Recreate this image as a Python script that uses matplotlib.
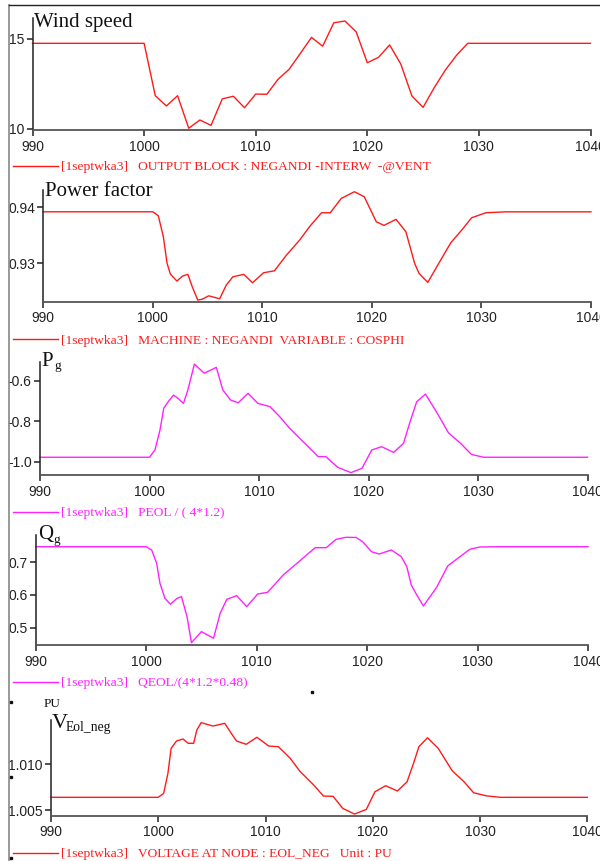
import matplotlib
matplotlib.use("Agg")
import matplotlib.pyplot as plt
from matplotlib.lines import Line2D

SERIF = "Liberation Serif"
SANS = "Liberation Sans"
RED = "#ff1a1a"
MAG = "#ff22ff"

# ---------------- data ----------------
wind_t = [990, 1000, 1001, 1002, 1003, 1004, 1005, 1006, 1007, 1008, 1009, 1010,
          1011, 1012, 1013, 1014, 1015, 1016, 1017, 1018, 1019, 1020, 1021, 1022,
          1023, 1024, 1025, 1026, 1027, 1028, 1029, 1040]
wind_v = [14.76, 14.76, 11.85, 11.28, 11.85, 10.04, 10.5, 10.2, 11.67, 11.82, 11.18, 11.94,
          11.93, 12.76, 13.32, 14.2, 15.09, 14.6, 15.9, 16.0, 15.4, 13.68, 13.98, 14.67,
          13.61, 11.83, 11.2, 12.3, 13.28, 14.1, 14.76, 14.76]

pf_t = [990, 1000.0, 1000.5, 1000.96, 1001.3, 1001.6, 1002.2, 1002.7, 1003.2, 1003.6,
        1004.1, 1004.5, 1005.1, 1006.1, 1006.7, 1007.3, 1008.3, 1009.1, 1010.1, 1011.1,
        1012.2, 1013.4, 1014.3, 1015.4, 1016.2, 1017.2, 1018.4, 1019.3, 1020.4, 1021.1,
        1022.2, 1023.1, 1023.9, 1024.3, 1025.1, 1026.1, 1027.2, 1028.2, 1029.1, 1030.4,
        1032.2, 1040]
pf_v = [0.93921, 0.93921, 0.9385, 0.93475, 0.930, 0.92809, 0.92684, 0.92773, 0.92804, 0.92582,
        0.92345, 0.9236, 0.92421, 0.92368, 0.92612, 0.9276, 0.92804, 0.92654, 0.92832, 0.92868,
        0.93148, 0.93416, 0.93654, 0.93904, 0.93904, 0.9416, 0.94279, 0.9419, 0.93743, 0.93678,
        0.93786, 0.93565, 0.930, 0.92821, 0.9266, 0.930, 0.93368, 0.93595, 0.93814, 0.93904,
        0.9392, 0.9392]

pg_t = [990, 1000, 1000.5, 1000.96, 1001.3, 1001.7, 1002.2, 1002.6, 1003.1, 1003.5,
        1004.1, 1005.0, 1006.1, 1006.7, 1007.4, 1008.1, 1009.0, 1009.9, 1011.0, 1011.9,
        1012.8, 1013.7, 1014.5, 1015.4, 1016.1, 1017.2, 1018.4, 1019.4, 1020.3, 1021.2,
        1022.3, 1023.2, 1023.8, 1024.4, 1025.2, 1026.2, 1027.3, 1028.4, 1029.4, 1030.5, 1040]
pg_v = [-0.978, -0.978, -0.942, -0.843, -0.736, -0.704, -0.671, -0.687, -0.712, -0.646,
        -0.518, -0.563, -0.534, -0.646, -0.695, -0.709, -0.662, -0.712, -0.728, -0.778,
        -0.835, -0.884, -0.926, -0.975, -0.975, -1.028, -1.054, -1.033, -0.942, -0.926,
        -0.954, -0.909, -0.802, -0.704, -0.666, -0.753, -0.857, -0.909, -0.964, -0.978, -0.978]

qg_t = [990, 1000, 1000.5, 1000.95, 1001.25, 1001.7, 1002.2, 1002.8, 1003.2, 1003.7,
        1004.1, 1005.0, 1006.1, 1006.7, 1007.3, 1008.2, 1009.1, 1010.1, 1011.0, 1012.4,
        1013.9, 1015.3, 1016.3, 1017.2, 1018.1, 1019.0, 1019.6, 1020.4, 1021.1, 1022.2,
        1023.1, 1023.6, 1024.0, 1024.5, 1025.1, 1026.3, 1027.3, 1028.4, 1029.3, 1030.2,
        1032.0, 1040]
qg_v = [0.7477, 0.7477, 0.7376, 0.697, 0.6358, 0.5899, 0.5716, 0.5899, 0.5948, 0.5336,
        0.4541, 0.4878, 0.4676, 0.544, 0.5868, 0.5979, 0.5643, 0.603, 0.6082, 0.661,
        0.704, 0.7447, 0.7447, 0.7703, 0.7764, 0.776, 0.763, 0.7324, 0.7254, 0.7376,
        0.7171, 0.6865, 0.6306, 0.600, 0.5664, 0.6235, 0.6887, 0.7171, 0.7397, 0.7467,
        0.7477, 0.7477]

v_t = [990, 1000, 1000.5, 1000.9, 1001.2, 1001.7, 1002.3, 1002.8, 1003.3, 1003.6,
       1004.0, 1005.1, 1006.2, 1006.8, 1007.3, 1008.2, 1009.2, 1010.3, 1011.2, 1012.3,
       1013.2, 1014.5, 1015.4, 1016.3, 1017.2, 1018.3, 1019.4, 1020.2, 1021.2, 1022.3,
       1023.2, 1023.8, 1024.3, 1025.1, 1026.1, 1027.4, 1028.5, 1029.4, 1030.6, 1031.9, 1040]
v_v = [1.00639, 1.00639, 1.00682, 1.00901, 1.01175, 1.01255, 1.01277, 1.0123, 1.0123, 1.01376,
       1.01456, 1.01419, 1.01449, 1.0134, 1.01255, 1.01219, 1.01296, 1.012, 1.01193, 1.01066,
       1.00925, 1.00773, 1.00653, 1.0065, 1.00518, 1.00456, 1.00507, 1.007, 1.00766, 1.00708,
       1.0081, 1.01011, 1.01193, 1.01291, 1.01175, 1.0093, 1.0081, 1.00689, 1.00655, 1.00639, 1.00639]

xticks = [990, 1000, 1010, 1020, 1030, 1040]
wind_yticks = [10, 15]
pf_yticks = [0.93, 0.94]
pg_yticks = [-1.0, -0.8, -0.6]
qg_yticks = [0.5, 0.6, 0.7]
v_yticks = [1.005, 1.010]

legend_texts = [
    "[1septwka3]   OUTPUT BLOCK : NEGANDI -INTERW  -@VENT",
    "[1septwka3]   MACHINE : NEGANDI  VARIABLE : COSPHI",
    "[1septwka3]   PEOL / ( 4*1.2)",
    "[1septwka3]   QEOL/(4*1.2*0.48)",
    "[1septwka3]   VOLTAGE AT NODE : EOL_NEG   Unit : PU",
]

# ---------------- figure ----------------
W, H = 600, 861
fig = plt.figure(figsize=(W / 100, H / 100), dpi=100)
fig.patch.set_facecolor("white")


def fx(px):
    return px / W


def fy(py):
    return 1 - py / H


def make_axes(left, right, top, bottom, ylim, yticks, yfmt):
    ax = fig.add_axes([fx(left), fy(bottom), (right - left) / W, (bottom - top) / H])
    ax.set_xlim(990, 1040)
    ax.set_ylim(*ylim)
    ax.set_facecolor("none")
    for s in ("top", "right"):
        ax.spines[s].set_visible(False)
    ax.spines["left"].set_color("#222222")
    ax.spines["bottom"].set_color("#555555")
    ax.spines["left"].set_linewidth(1.1)
    ax.spines["bottom"].set_linewidth(1.3)
    ax.set_xticks(xticks)
    ax.set_xticklabels([str(t) for t in xticks])
    ax.set_yticks(yticks)
    ax.set_yticklabels([yfmt.format(v) for v in yticks])
    ax.tick_params(axis="x", direction="out", length=4, width=1.1, colors="#222222",
                   pad=3, labelsize=10)
    ax.tick_params(axis="y", direction="out", length=4, width=1.1, colors="#222222",
                   pad=2, labelsize=10)
    for lab in ax.get_xticklabels() + ax.get_yticklabels():
        lab.set_fontfamily(SANS)
    return ax


panels = [
    dict(t=wind_t, v=wind_v, col=RED, left=32.5, right=590.5, top=18.3, bottom=130,
         ylim=(9.944, 16.15), yt=wind_yticks, fmt="{:g}", leg_y=165.7),
    dict(t=pf_t, v=pf_v, col=RED, left=43.3, right=591, top=190, bottom=301.7,
         ylim=(0.92316, 0.9431), yt=pf_yticks, fmt="{:.2f}", leg_y=339.3),
    dict(t=pg_t, v=pg_v, col=MAG, left=40, right=587.5, top=361.7, bottom=475,
         ylim=(-1.0657, -0.506), yt=pg_yticks, fmt="{:.1f}", leg_y=511.7),
    dict(t=qg_t, v=qg_v, col=MAG, left=35.7, right=588, top=535, bottom=645,
         ylim=(0.447, 0.7835), yt=qg_yticks, fmt="{:.1f}", leg_y=681.7),
    dict(t=v_t, v=v_v, col=RED, left=51, right=587.3, top=720, bottom=815.7,
         ylim=(1.00438, 1.01485), yt=v_yticks, fmt="{:.3f}", leg_y=852.7),
]

for p, txt in zip(panels, legend_texts):
    ax = make_axes(p["left"], p["right"], p["top"], p["bottom"], p["ylim"], p["yt"], p["fmt"])
    ax.plot(p["t"], p["v"], color=p["col"], lw=1.0, clip_on=False)
    fig.add_artist(Line2D([fx(13), fx(58)], [fy(p["leg_y"]), fy(p["leg_y"])],
                          color=p["col"], lw=1.0))
    fig.text(fx(61), fy(p["leg_y"] + 4.5), txt, color=p["col"], fontsize=9.7,
             family=SERIF, ha="left", va="baseline")

# titles
fig.text(fx(34.3), fy(26.7), "Wind speed", family=SERIF, fontsize=15, color="#111111",
         va="baseline")
fig.text(fx(45), fy(196), "Power factor", family=SERIF, fontsize=15, color="#111111",
         va="baseline")
fig.text(fx(41.7), fy(366), "P", family=SERIF, fontsize=15, color="#111111", va="baseline")
fig.text(fx(54.3), fy(369.3), "g", family=SERIF, fontsize=9.5, color="#111111", va="baseline")
fig.text(fx(38.3), fy(539.3), "Q", family=SERIF, fontsize=15, color="#111111", va="baseline")
fig.text(fx(53.3), fy(542.5), "g", family=SERIF, fontsize=9.5, color="#111111", va="baseline")
fig.text(fx(43.3), fy(706.7), "PU", family=SERIF, fontsize=9.5, color="#111111", va="baseline")
fig.text(fx(51.7), fy(727.7), "V", family=SERIF, fontsize=16, color="#111111", va="baseline")
fig.text(fx(66), fy(730.7), "Eol_neg", family=SERIF, fontsize=9.8, color="#111111", va="baseline")

# outer frame
fig.add_artist(Line2D([fx(9), fx(9)], [fy(5), fy(861)], color="#888888", lw=1.2))
fig.add_artist(Line2D([fx(9), fx(600)], [fy(5), fy(5)], color="#222222", lw=1.0))

# small stray marks
for (dx, dy) in [(10.7, 701.7), (10.7, 776.7), (10.5, 858), (312.3, 692.3)]:
    fig.add_artist(Line2D([fx(dx)], [fy(dy)], marker="s", markersize=1.6, color="#111111",
                          lw=0))

fig.savefig("out.png", dpi=100)
